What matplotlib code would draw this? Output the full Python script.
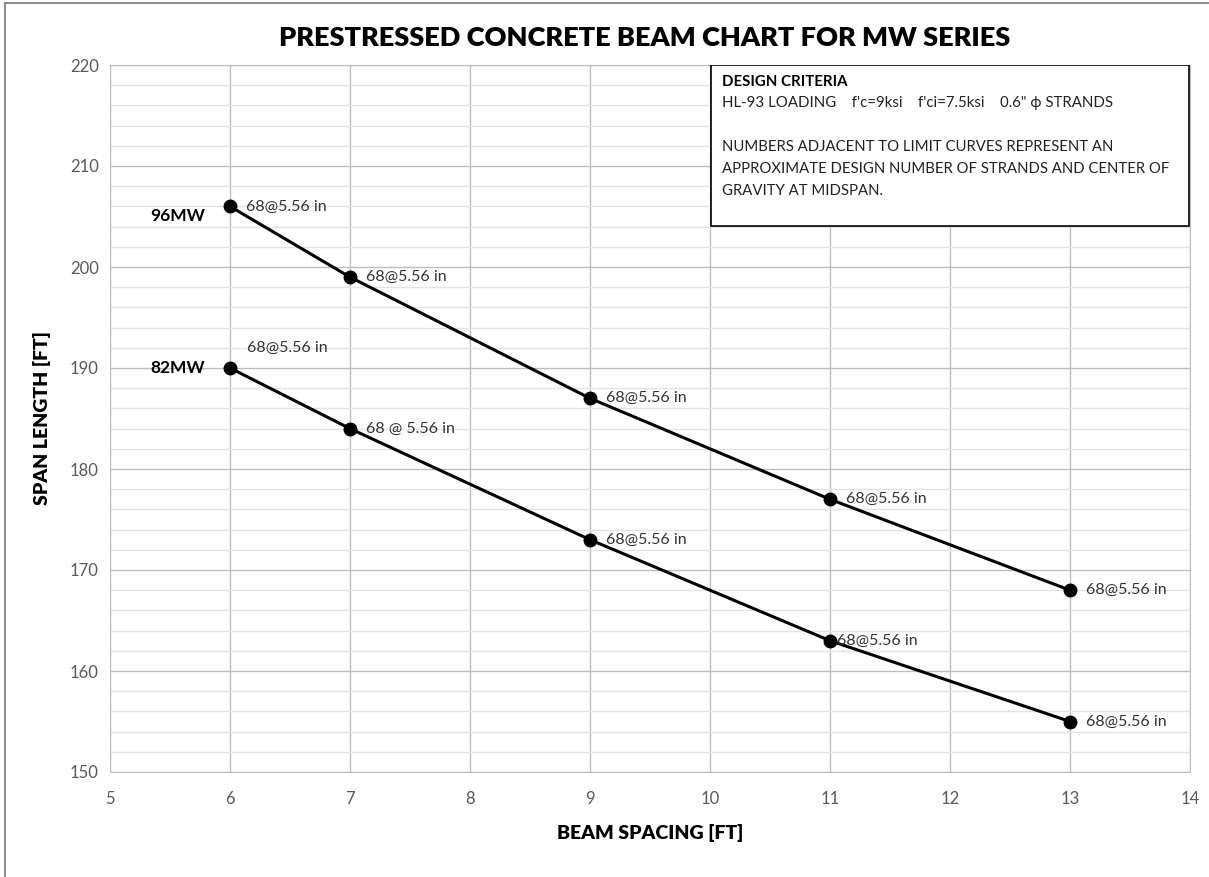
import matplotlib
matplotlib.use("Agg")
import matplotlib.pyplot as plt
from matplotlib.patches import Rectangle
from matplotlib.lines import Line2D

plt.rcParams['font.family'] = ['Lato', 'DejaVu Sans']

spacing = [6, 7, 9, 11, 13]
span_96mw = [206, 199, 187, 177, 168]
span_82mw = [190, 184, 173, 163, 155]
labels_96mw = ["68@5.56 in"] * 5
labels_82mw = ["68@5.56 in", "68 @ 5.56 in", "68@5.56 in", "68@5.56 in", "68@5.56 in"]
x_ticks = list(range(5, 15))
y_ticks = list(range(150, 221, 10))

W, H = 1209, 877
fig = plt.figure(figsize=(W / 100, H / 100), dpi=100)
ax = fig.add_axes([110 / W, 1 - 772 / H, 1080 / W, 707 / H])

ax.set_xlim(5, 14)
ax.set_ylim(150, 220)
ax.set_xticks(x_ticks)
ax.set_yticks(y_ticks)
ax.set_yticks(range(150, 221, 2), minor=True)
ax.grid(which='minor', axis='y', color='#e3e3e3', lw=1.0)
ax.grid(which='major', color='#bdbdbd', lw=1.0)
ax.set_axisbelow(True)
for s in ax.spines.values():
    s.set_color('#bdbdbd')
ax.tick_params(which='both', length=0, labelsize=12, colors='#595959', pad=8)
ax.tick_params(axis='x', pad=14)

ax.plot(spacing, span_96mw, color='black', lw=2.2, marker='o', ms=9, zorder=3)
ax.plot(spacing, span_82mw, color='black', lw=2.2, marker='o', ms=9, zorder=3)

off = dict(textcoords='offset pixels', fontsize=11.5, color='#333333', va='center', ha='left')
for x, y, t in zip(spacing, span_96mw, labels_96mw):
    ax.annotate(t, (x, y), xytext=(16, 0), **off)
for i, (x, y, t) in enumerate(zip(spacing, span_82mw, labels_82mw)):
    if i == 0:
        ax.annotate(t, (x, y), xytext=(17, 20), **off)
    elif i == 3:
        ax.annotate(t, (x, y), xytext=(7, 0), **off)
    else:
        ax.annotate(t, (x, y), xytext=(16, 0), **off)

ax.annotate("96MW", (6, 206), xytext=(-25, -10), textcoords='offset pixels',
            fontsize=12.5, fontweight='bold', ha='right', va='center')
ax.annotate("82MW", (6, 190), xytext=(-25, 0), textcoords='offset pixels',
            fontsize=12.5, fontweight='bold', ha='right', va='center')

ax.set_xlabel("BEAM SPACING [FT]", fontsize=14, fontweight='heavy', labelpad=12)
ax.set_ylabel("SPAN LENGTH [FT]", fontsize=14, fontweight='heavy', labelpad=14)

# design criteria box
bx0, bx1 = (711 - 110) / 1080, (1189 - 110) / 1080
by1, by0 = 1.0, (772 - 226) / 707
ax.add_patch(Rectangle((bx0, by0), bx1 - bx0, by1 - by0, transform=ax.transAxes,
                       facecolor='white', edgecolor='black', lw=1.2, zorder=5))
tx = bx0 + 11 / 1080
ax.text(tx, (772 - 82) / 707, "DESIGN CRITERIA", transform=ax.transAxes,
        fontsize=10.8, fontweight='bold', va='center', zorder=6)
ax.text(tx, (772 - 103) / 707,
        "HL-93 LOADING    f'c=9ksi    f'ci=7.5ksi    0.6\" \u03d5 STRANDS",
        transform=ax.transAxes, fontsize=10.8, va='center', color='#222222', zorder=6)
for yy, t in [(147, "NUMBERS ADJACENT TO LIMIT CURVES REPRESENT AN"),
              (169, "APPROXIMATE DESIGN NUMBER OF STRANDS AND CENTER OF"),
              (191, "GRAVITY AT MIDSPAN.")]:
    ax.text(tx, (772 - yy) / 707, t, transform=ax.transAxes, fontsize=10.7,
            va='center', color='#222222', zorder=6)

fig.text(645 / W, 1 - 38 / H, "PRESTRESSED CONCRETE BEAM CHART FOR MW SERIES",
         ha='center', va='center', fontsize=19.5, fontweight='heavy')

# outer frame (top and left edges visible)
fig.add_artist(Line2D([5 / W, 1], [1 - 3 / H, 1 - 3 / H], transform=fig.transFigure,
                      color='#8c8c8c', lw=1.5))
fig.add_artist(Line2D([5 / W, 5 / W], [0, 1 - 3 / H], transform=fig.transFigure,
                      color='#8c8c8c', lw=1.5))

fig.savefig("out.png", dpi=100)
